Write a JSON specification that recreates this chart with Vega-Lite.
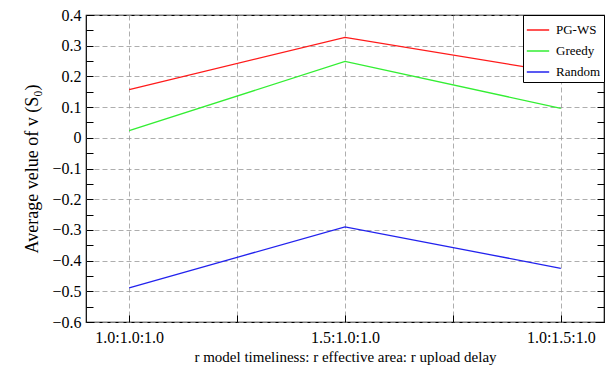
{
  "$schema": "https://vega.github.io/schema/vega-lite/v6.json",
  "width": 518,
  "height": 307,
  "autosize": "none",
  "padding": {"left": 86, "top": 15, "right": 10, "bottom": 54},
  "background": "white",
  "config": {
    "font": "Liberation Serif",
    "view": {"stroke": "black", "strokeWidth": 1.2},
    "axis": {
      "labelFont": "Liberation Serif",
      "titleFont": "Liberation Serif",
      "labelColor": "black",
      "titleColor": "black",
      "labelFontSize": 16,
      "domain": false,
      "tickColor": "black",
      "tickOpacity": 1,
      "tickWidth": 1,
      "gridColor": "#999999",
      "gridDash": [5, 3],
      "gridWidth": 0.8
    },
    "legend": {"labelFont": "Liberation Serif"}
  },
  "data": {
    "values": [
      {"x": 0, "s": "PG-WS", "v": 0.157},
      {"x": 1, "s": "PG-WS", "v": 0.327},
      {"x": 2, "s": "PG-WS", "v": 0.212},
      {"x": 0, "s": "Greedy", "v": 0.023},
      {"x": 1, "s": "Greedy", "v": 0.249},
      {"x": 2, "s": "Greedy", "v": 0.096},
      {"x": 0, "s": "Random", "v": -0.489},
      {"x": 1, "s": "Random", "v": -0.29},
      {"x": 2, "s": "Random", "v": -0.425}
    ]
  },
  "resolve": {"axis": {"y": "independent"}},
  "layer": [
    {
      "mark": {"type": "line", "strokeWidth": 1.3},
      "encoding": {
        "x": {
          "field": "x",
          "type": "quantitative",
          "scale": {"domain": [-0.2, 2.2], "nice": false, "zero": false},
          "axis": {
            "values": [0, 0.5, 1, 1.5, 2],
            "labelExpr": "datum.value == 0 ? '1.0:1.0:1.0' : datum.value == 1 ? '1.5:1.0:1.0' : datum.value == 2 ? '1.0:1.5:1.0' : ''",
            "labelFont": "Liberation Serif",
            "titleFont": "Liberation Serif",
            "grid": true,
            "ticks": true,
            "tickSize": -7,
            "labelPadding": 14,
            "title": "r model timeliness: r effective area: r upload delay",
            "titleFontSize": 15,
            "titleFontWeight": "normal",
            "titlePadding": 4
          }
        },
        "y": {
          "field": "v",
          "type": "quantitative",
          "scale": {"domain": [-0.6, 0.4], "nice": false},
          "axis": {
            "values": [-0.6, -0.55, -0.5, -0.45, -0.4, -0.35, -0.3, -0.25, -0.2, -0.15, -0.1, -0.05, 0, 0.05, 0.1, 0.15, 0.2, 0.25, 0.3, 0.35, 0.4],
            "labelExpr": "abs(round(datum.value*10) - datum.value*10) > 0.01 ? '' : (abs(datum.value) < 0.001 ? '0' : format(datum.value, '.1f'))",
            "labelFont": "Liberation Serif",
            "titleFont": "Liberation Serif",
            "grid": true,
            "gridOpacity": {"condition": {"test": "abs(round(datum.value*10) - datum.value*10) < 0.01", "value": 1}, "value": 0},
            "ticks": true,
            "tickSize": -7,
            "labelPadding": 12,
            "title": "Average velue of v (S₀)",
            "titleFontSize": 18,
            "titleFontWeight": "normal",
            "titlePadding": 10
          }
        },
        "color": {
          "field": "s",
          "type": "nominal",
          "sort": ["PG-WS", "Greedy", "Random"],
          "scale": {"domain": ["PG-WS", "Greedy", "Random"], "range": ["#ff1a1a", "#33ee33", "#2222ee"]},
          "legend": {
            "title": null,
            "orient": "top-right",
            "offset": 0,
            "symbolType": "stroke",
            "symbolSize": 500,
            "symbolStrokeWidth": 1.5,
            "labelFontSize": 13,
            "labelFont": "Liberation Serif",
            "labelColor": "black",
            "strokeColor": "black",
            "fillColor": "white",
            "padding": 3,
            "rowPadding": 2,
            "labelOffset": 6
          }
        }
      }
    },
    {
      "mark": {"type": "line", "opacity": 0},
      "encoding": {
        "x": {"field": "x", "type": "quantitative"},
        "y": {
          "field": "v",
          "type": "quantitative",
          "scale": {"domain": [-0.6, 0.4], "nice": false},
          "axis": {
            "orient": "right",
            "values": [-0.6, -0.55, -0.5, -0.45, -0.4, -0.35, -0.3, -0.25, -0.2, -0.15, -0.1, -0.05, 0, 0.05, 0.1, 0.15, 0.2, 0.25, 0.3, 0.35, 0.4],
            "labels": false,
            "grid": false,
            "title": null,
            "ticks": true,
            "tickSize": -7
          }
        }
      }
    }
  ]
}
